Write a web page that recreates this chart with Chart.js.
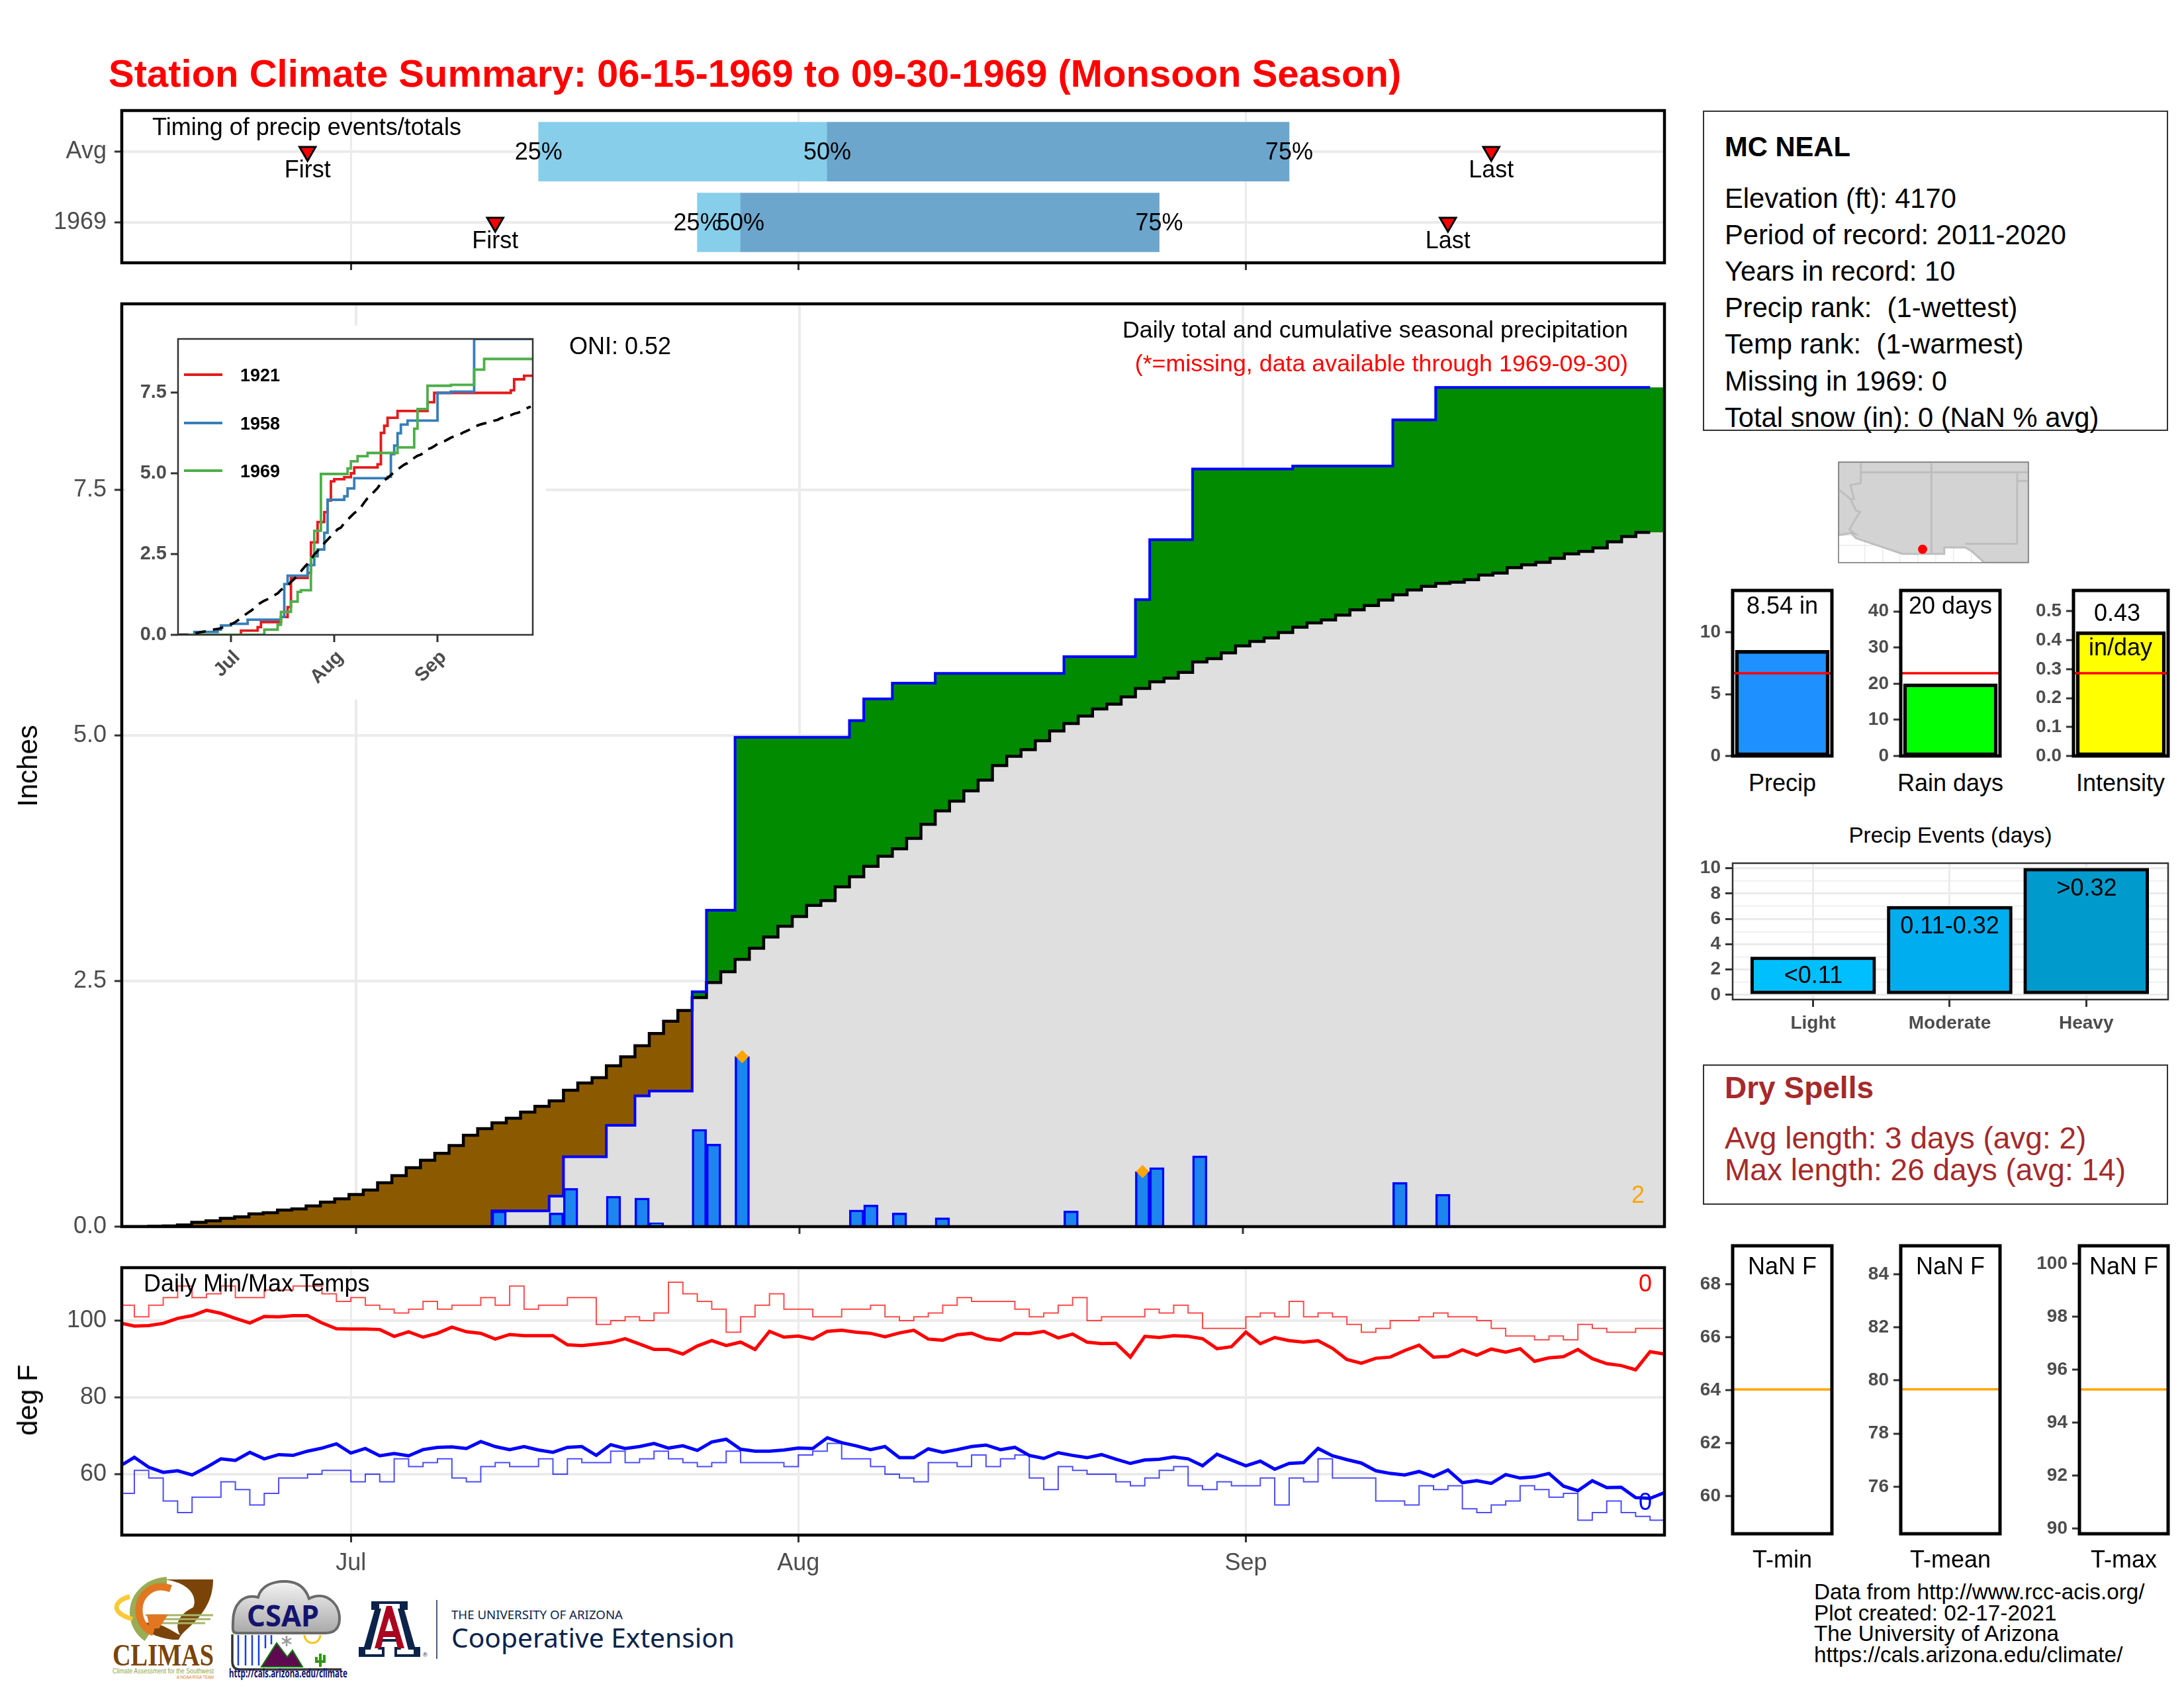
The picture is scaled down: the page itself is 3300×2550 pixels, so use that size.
<!DOCTYPE html>
<html>
<head>
<meta charset="utf-8">
<title>Station Climate Summary</title>
<script src="https://cdn.jsdelivr.net/npm/chart.js@4"></script>
<style>
html, body { margin: 0; padding: 0; background: #fff; }
#page { position: relative; width: 3300px; height: 2550px; overflow: hidden; font-family: "Liberation Sans", sans-serif; }
#page canvas, #page svg, #page .lab, #page .box { position: absolute; }
.lab { white-space: pre; line-height: 0; }
.box { box-sizing: border-box; }
</style>
</head>
<body>
<div id="page">
<svg width="3300" height="2550" style="left:0;top:0">
  <defs><linearGradient id="cloud" x1="0" y1="0" x2="0" y2="1"><stop offset="0" stop-color="#f4f4f4"/><stop offset="1" stop-color="#a9a9a9"/></linearGradient></defs>
  <!-- CLIMAS -->
  <path d="M245 2386H322C322 2412 312 2430 298 2446C288 2458 274 2466 270 2477C252 2478 222 2470 204 2450L232 2452C248 2454 262 2466 272 2470C264 2455 268 2440 292 2428C300 2408 280 2388 245 2386Z" fill="#7a4408"/>
  <path d="M252 2388C222 2390 202 2412 202 2436C202 2452 210 2466 222 2474" fill="none" stroke="#98ad55" stroke-width="12"/>
  <path d="M258 2400C232 2390 210 2408 210 2432C210 2450 220 2462 232 2466" fill="none" stroke="#e27722" stroke-width="11"/>
  <path d="M196 2412C172 2418 166 2436 200 2446" fill="none" stroke="#f9c937" stroke-width="7"/>
  <path d="M220 2440H322M228 2446H318M232 2452H310" fill="none" stroke="#a4b568" stroke-width="3"/>
  <path d="M222 2439H254L240 2460H226Z" fill="#e27722"/>
  <text x="170" y="2516" font-family="Liberation Serif" font-weight="bold" font-size="46" fill="#7a4408" textLength="153" lengthAdjust="spacingAndGlyphs">CLIMAS</text>
  <text x="170" y="2528" font-size="11" fill="#8fa84b" textLength="153" lengthAdjust="spacingAndGlyphs">Climate Assessment for the Southwest</text>
  <text x="267" y="2536" font-size="8" fill="#e27722" textLength="56" lengthAdjust="spacingAndGlyphs">A NOAA RISA TEAM</text>
  <!-- CSAP -->
  <path d="M358 2467C350 2467 352 2460 352 2450C352 2425 366 2407 390 2413C394 2396 412 2388 433 2389C452 2390 462 2400 467 2415C490 2403 513 2420 513 2445C513 2460 505 2467 492 2467Z" fill="url(#cloud)" stroke="#6a6a6a" stroke-width="4"/>
  <text x="373" y="2457" font-family="Noto Sans" font-weight="bold" font-size="44" fill="#14146e" textLength="109" lengthAdjust="spacingAndGlyphs">CSAP</text>
  <path d="M360 2470V2516M371 2470V2516M381 2470V2516M391 2470V2516M401 2470V2490M410 2470V2484" stroke="#1a3fe0" stroke-width="2.5"/>
  <path d="M351 2469V2510Q351 2522 362 2522H516" fill="none" stroke="#333" stroke-width="3.5"/>
  <path d="M395 2518L418 2482L434 2503L442 2493L457 2518Z" fill="#5e0a50" stroke="#0a7a0a" stroke-width="2"/>
  <path d="M460 2470A12 12 0 0 0 484 2470" fill="none" stroke="#f5c518" stroke-width="3"/>
  <path d="M433 2471V2487M426 2475L440 2483M440 2475L426 2483" stroke="#999" stroke-width="2.5"/>
  <path d="M484 2518V2498M478 2503V2510H490V2500" fill="none" stroke="#2e9a0a" stroke-width="4"/>
  <text x="346" y="2534" font-family="Noto Sans" font-weight="bold" font-size="18" fill="#14146e" textLength="179" lengthAdjust="spacingAndGlyphs">http://cals.arizona.edu/climate</text>
  <!-- University of Arizona -->
  <path d="M561 2419H616V2432H611L627 2488H635V2503H596V2488H601L599 2480H578L576 2488H581V2503H542V2488H550L566 2432H561Z" fill="#0c234b"/>
  <path d="M573 2423H604V2430H601L617 2492H625V2499H600V2492H606L603 2476H574L571 2492H577V2499H552V2492H560L576 2430H573Z" fill="#fff"/>
  <path d="M584 2426H592L611 2490H601L597 2473H579L575 2490H566ZM588 2444L582 2464H594Z" fill="#ab0520" fill-rule="evenodd"/>
  <text x="639" y="2503" font-size="9" fill="#0c234b">®</text>
  <path d="M660 2417V2506" stroke="#0c234b" stroke-width="1.5"/>
  <text x="682" y="2446" font-family="Noto Sans" font-size="18" fill="#0c234b" textLength="259" lengthAdjust="spacingAndGlyphs">THE UNIVERSITY OF ARIZONA</text>
  <text x="682" y="2489" font-family="Noto Sans" font-size="40" fill="#0c234b" textLength="428" lengthAdjust="spacingAndGlyphs">Cooperative Extension</text>
</svg>
</div>
<script>
// ---- data: day number counts from Jun 15 (Jul 1 = 16, Aug 1 = 47, Sep 1 = 78)
const monthDays = [16, 47, 78];
const monthNames = ["Jul", "Aug", "Sep"];

// timing panel: [Avg, 1969]
const timingRows = [2, 1];
const timingNames = ["1969", "Avg"];
const timingFirst = [13, 26];
const timing25 = [29, 40];
const timing50 = [49, 43];
const timing75 = [81, 72];
const timingLast = [95, 92];

// 1969 daily rain
const rainDays = [26, 30, 31, 34, 36, 37, 40, 41, 43, 51, 52, 54, 57, 66, 71, 72, 75, 82, 89, 92];
const rainAmounts = [0.16, 0.14, 0.39, 0.31, 0.29, 0.04, 0.99, 0.84, 1.73, 0.17, 0.22, 0.14, 0.09, 0.16, 0.56, 0.60, 0.72, 0.01, 0.45, 0.33];
const rainTotals = [0.16, 0.31, 0.71, 1.03, 1.33, 1.38, 2.39, 3.22, 4.98, 5.15, 5.37, 5.53, 5.63, 5.80, 6.38, 6.99, 7.71, 7.74, 8.21, 8.54];
const flagDays = [43, 71];
const flagAmounts = [1.73, 0.56];

// long term average cumulative precip, days 0-106
const avgCum = [0, 0, 0.003, 0.007, 0.016, 0.043, 0.059, 0.084, 0.10, 0.13, 0.141, 0.168, 0.18, 0.21, 0.25, 0.283,
  0.327, 0.373, 0.447, 0.519, 0.60, 0.676, 0.746, 0.825, 0.93, 0.997, 1.056, 1.103, 1.166, 1.224, 1.28, 1.388,
  1.462, 1.516, 1.637, 1.727, 1.84, 1.965, 2.09, 2.20, 2.33, 2.484, 2.594, 2.72, 2.833, 2.947, 3.056, 3.155,
  3.268, 3.318, 3.458, 3.56, 3.666, 3.768, 3.844, 3.95, 4.094, 4.23, 4.33, 4.434, 4.544, 4.692, 4.786, 4.854,
  4.944, 5.044, 5.12, 5.195, 5.267, 5.316, 5.39, 5.477, 5.544, 5.58, 5.64, 5.746, 5.78, 5.838, 5.91, 5.954,
  5.99, 6.045, 6.10, 6.143, 6.173, 6.222, 6.277, 6.32, 6.375, 6.43, 6.478, 6.515, 6.546, 6.558, 6.583, 6.63,
  6.65, 6.705, 6.735, 6.76, 6.80, 6.845, 6.87, 6.906, 6.968, 7.022, 7.065];

// inset comparison years (day the total changes, new total)
const days1921 = [19, 24, 25, 31, 33, 34, 38, 39, 40, 42, 44, 45, 46, 47, 50, 52, 53, 60, 61, 62, 63, 66, 75, 77, 100, 101, 104];
const totals1921 = [0.13, 0.24, 0.39, 0.55, 0.86, 1.76, 1.76, 1.92, 2.86, 3.49, 3.80, 4.16, 4.75, 4.82, 4.88, 5.0, 5.18, 5.28, 6.25, 6.47, 6.72, 6.93, 7.2, 7.49, 7.57, 7.91, 8.02];
const days1958 = [5, 12, 13, 16, 21, 31, 32, 33, 39, 41, 42, 44, 45, 50, 51, 53, 63, 64, 65, 66, 67, 69, 78, 82, 89];
const totals1958 = [0.09, 0.16, 0.29, 0.34, 0.47, 0.55, 1.57, 1.83, 2.16, 2.43, 2.64, 3.16, 4.18, 4.29, 4.53, 4.85, 4.89, 5.59, 5.86, 6.24, 6.51, 6.63, 7.49, 7.53, 9.16];

// temperatures, days 0-107 (avg) and 0-106 (1969)
const avgMax = [99.4, 98.6, 98.7, 99.3, 100.6, 101.3, 102.7, 101.9, 100.6, 99.4, 101.1, 101.0, 101.3, 101.3, 99.4, 97.9,
  97.8, 97.8, 97.7, 95.9, 97.1, 95.7, 96.7, 98.3, 97.1, 96.7, 95.2, 96.4, 96.1, 96.1, 96.1, 93.7,
  93.5, 93.9, 94.3, 95.3, 93.9, 92.5, 92.5, 91.3, 93.4, 94.8, 93.5, 94.4, 92.5, 97.2, 95.7, 96.0,
  95.2, 97.2, 97.5, 97.0, 96.7, 95.8, 96.8, 97.5, 95.2, 94.9, 96.3, 96.7, 95.3, 94.9, 96.7, 96.6,
  97.2, 95.5, 96.5, 94.4, 94.0, 94.1, 90.5, 95.9, 95.6, 96.1, 95.9, 95.3, 92.7, 93.2, 97.0, 94.0,
  95.6, 94.8, 94.4, 94.8, 92.8, 89.9, 88.9, 90.2, 90.5, 92.2, 93.6, 90.5, 90.7, 92.4, 91.0, 92.6,
  91.8, 92.7, 89.4, 90.3, 90.6, 92.5, 90.1, 88.8, 88.3, 87.2, 91.9, 91.3];
const avgMin = [62.1, 64.4, 61.8, 60.5, 60.9, 59.8, 61.8, 64.0, 63.6, 65.7, 64.0, 65.1, 64.9, 66.0, 66.8, 67.9,
  65.5, 66.7, 64.8, 65.4, 64.8, 66.4, 67.0, 67.1, 66.7, 68.5, 67.2, 66.4, 67.2, 66.3, 65.7, 67.0,
  67.2, 64.9, 67.7, 66.7, 67.2, 68.0, 66.8, 67.4, 66.2, 68.4, 69.1, 66.5, 66.0, 66.0, 66.3, 66.8,
  66.7, 69.5, 68.2, 67.4, 66.4, 67.2, 64.3, 64.3, 66.6, 65.7, 66.4, 67.2, 67.6, 66.4, 67.0, 64.9,
  64.1, 65.6, 64.9, 64.3, 65.1, 63.9, 62.8, 63.7, 63.9, 64.5, 64.0, 62.2, 65.2, 63.7, 62.2, 63.4,
  61.3, 62.8, 63.0, 66.7, 64.8, 63.8, 62.9, 60.9, 60.2, 59.8, 60.7, 59.4, 61.1, 57.8, 58.3, 57.6,
  59.9, 59.0, 59.3, 60.2, 56.9, 55.7, 58.3, 56.5, 56.6, 53.9, 53.7, 55.2];
const max1969 = [104, 101, 104, 106, 109, 106, 107, 109, 106, 106, 108, 108, 109, 109, 107, 105, 106, 104, 103, 102,
  103, 105, 103, 104, 104, 106, 104, 109, 103, 104, 104, 106, 106, 99, 100, 101, 100, 102, 110, 107,
  105, 103, 97, 101, 104, 107, 103, 103, 101, 101, 103, 103, 104, 101, 100, 101, 102, 104, 106, 105,
  105, 105, 103, 101, 102, 104, 106, 100, 101, 101, 101, 103, 102, 104, 102, 98, 98, 98, 101, 102,
  101, 105, 101, 102, 101, 99, 97, 98, 100, 100, 101, 102, 101, 101, 100, 98, 96, 96, 95, 96,
  95, 99, 98, 97, 97, 98, 98];
const min1969 = [55, 61, 59, 53, 50, 54, 54, 58, 56, 52, 55, 59, 59, 60, 61, 61, 58, 60, 58, 64,
  62, 63, 64, 59, 58, 62, 63, 62, 62, 64, 60, 64, 63, 63, 66, 63, 64, 66, 64, 63,
  62, 63, 66, 63, 63, 63, 62, 65, 66, 68, 64, 64, 62, 60, 59, 58, 63, 63, 62, 65,
  62, 64, 65, 59, 56, 62, 61, 60, 60, 58, 57, 59, 61, 62, 57, 56, 58, 57, 57, 59,
  52, 59, 58, 64, 59, 59, 59, 53, 53, 52, 57, 56, 57, 51, 50, 52, 53, 57, 56, 54,
  55, 48, 50, 53, 50, 49, 48];

// gauges
const gaugePrecip = 8.54, gaugePrecipAvg = 6.68;
const gaugeRain = 20, gaugeRainAvg = 22.9;
const gaugeIntensity = 0.43, gaugeIntensityAvg = 0.286;
const eventNames = ["Light", "Moderate", "Heavy"];
const eventValues = [3, 7, 10];
const eventColors = ["#00BFFF", "#00AEEF", "#009ACD"];
const eventLabels = ["<0.11", "0.11-0.32", ">0.32"];
const tminAvg = 64.03, tmeanAvg = 79.67, tmaxAvg = 95.25;

// little locator map (lon, lat)
const stationLon = [-109.67], stationLat = [31.66];
const landLon = [-115.6, -114.71, -114.37, -111.09, -108.14, -108.14, -106.67, -106.22, -105.31, -102.2, -102.2, -115.6, -115.6];
const landLat = [32.67, 32.82, 32.45, 31.33, 31.33, 31.79, 31.79, 31.54, 30.7, 30.7, 37.9, 37.9, 32.67];
const borderLons = [
  [-115.6, -114.76, -114.37, -114.08, -114.6, -114.83, -114.42, -114.71],
  [-114.03, -114.03, -114.76, -114.5, -114.76],
  [-114.03, -102.2],
  [-109.05, -109.05],
  [-103, -103],
  [-106.67, -103],
  [-103, -102.2]
];
const borderLats = [
  [35.95, 35.25, 34.43, 34.34, 33.5, 33.06, 32.76, 32.82],
  [37.9, 36.4, 36.25, 35.25, 35.25],
  [37.17, 37.17],
  [37.9, 31.33],
  [37.17, 32.05],
  [32.05, 32.05],
  [36.55, 36.55]
];

// ---- helpers
const page = document.getElementById('page');
const FONT = '"Liberation Sans", sans-serif';
Chart.defaults.font.family = FONT;

function label(x, base, text, o) {
  o = o || {};
  const size = o.size || 36;
  const d = document.createElement('div');
  d.className = 'lab';
  d.textContent = text;
  d.style.left = x + 'px';
  d.style.top = (base - 0.3465 * size) + 'px';
  d.style.fontSize = size + 'px';
  d.style.color = o.color || '#000';
  if (o.bold) d.style.fontWeight = 'bold';
  if (o.anchor === 'middle') d.style.transform = 'translateX(-50%)';
  if (o.anchor === 'end') d.style.transform = 'translateX(-100%)';
  page.appendChild(d);
}

function sideLabel(x, y, text) {
  const d = document.createElement('div');
  d.className = 'lab';
  d.textContent = text;
  d.style.left = x + 'px';
  d.style.top = y + 'px';
  d.style.fontSize = '42px';
  d.style.lineHeight = '48px';
  d.style.transform = 'translate(-50%,-50%) rotate(-90deg)';
  page.appendChild(d);
}

function rect(x, y, w, h, css) {
  const d = document.createElement('div');
  d.className = 'box';
  d.style.cssText = `left:${x}px;top:${y}px;width:${w}px;height:${h}px;` + css;
  page.appendChild(d);
}

const framePlugin = {
  id: 'frame',
  afterDatasetsDraw(chart, args, opts) {
    const a = chart.chartArea, c = chart.ctx;
    c.save();
    c.strokeStyle = opts.color || '#000';
    c.lineWidth = opts.width || 4;
    c.strokeRect(a.left, a.top, a.right - a.left, a.bottom - a.top);
    c.restore();
  }
};
Chart.register(framePlugin);

function addChart(box, m, datasets, xAxis, yAxis, frame) {
  const cv = document.createElement('canvas');
  cv.width = box.w + m.l + m.r;
  cv.height = box.h + m.t + m.b;
  cv.style.left = (box.x - m.l) + 'px';
  cv.style.top = (box.y - m.t) + 'px';
  page.appendChild(cv);
  const chart = new Chart(cv, {
    type: 'line',
    data: { datasets },
    options: {
      responsive: false, animation: false, devicePixelRatio: 1, events: [],
      layout: { autoPadding: false, padding: { top: m.t, right: m.r } },
      plugins: { legend: { display: false }, tooltip: { enabled: false }, frame },
      scales: {
        // hold the plot rectangle exactly where the boxes say it is
        x: Object.assign(xAxis, { afterFit(s) { s.height = m.b; s.paddingLeft = 0; s.paddingRight = 0; } }),
        y: Object.assign(yAxis, { afterFit(s) { s.width = m.l; s.paddingTop = 0; s.paddingBottom = 0; } })
      }
    }
  });
  chart.pageX = v => box.x - m.l + chart.scales.x.getPixelForValue(v);
  return chart;
}

function axis(min, max, vals, labels, o) {
  o = o || {};
  return {
    type: 'linear', min, max, offset: false,
    border: { display: false },
    grid: {
      offset: false, color: o.gridColor || '#EBEBEB', lineWidth: o.gridWidth === undefined ? 4 : o.gridWidth,
      drawOnChartArea: o.gridWidth !== 0,
      tickColor: '#333', tickWidth: 3, tickLength: 11
    },
    ticks: {
      display: !!labels, autoSkip: false, maxRotation: o.rotate || 0, minRotation: o.rotate || 0,
      padding: o.padding === undefined ? 12 : o.padding,
      labelOffset: o.labelOffset || 0,
      color: '#4D4D4D',
      font: { size: o.size || 36, weight: o.bold ? 'bold' : 'normal' },
      callback: v => labels ? labels[vals.indexOf(v)] : ''
    },
    afterBuildTicks(s) { s.ticks = vals.map(value => ({ value })); }
  };
}

// value i holds from x = i + shift up to x = i + 1 + shift
function stepPoints(values, shift, endX) {
  const pts = values.map((y, i) => ({ x: i + shift, y }));
  pts.push({ x: endX, y: values[values.length - 1] });
  return pts;
}

function changePoints(days, totals, endX) {
  const pts = [{ x: 0, y: 0 }];
  days.forEach((d, i) => pts.push({ x: d, y: totals[i] }));
  pts.push({ x: endX, y: totals[totals.length - 1] });
  return pts;
}

function line(data, color, width, extra) {
  return Object.assign({ type: 'line', data, borderColor: color, borderWidth: width, pointRadius: 0, fill: false, tension: 0, borderJoinStyle: 'miter' }, extra || {});
}

// ---- 1969 running total, one value per day 0-106
const obsCum = avgCum.map((_, day) => {
  let total = 0;
  rainDays.forEach((d, i) => { if (d <= day) total = rainTotals[i]; });
  return total;
});
const lowCum = avgCum.map((a, i) => Math.min(a, obsCum[i]));

// ---- title
label(164, 131, 'Station Climate Summary: 06-15-1969 to 09-30-1969 (Monsoon Season)', { size: 58, color: '#FF0000', bold: true });

// ---- timing panel
const timingBox = { x: 184, y: 167, w: 2331, h: 230 };
const timingChart = addChart(timingBox, { l: 184, t: 20, r: 30, b: 30 }, [
  { type: 'line', data: timingRows.flatMap((y, i) => [{ x: timingFirst[i], y }, { x: timingLast[i], y }]),
    showLine: false, pointStyle: 'triangle', pointRotation: 180, pointRadius: 14,
    pointBackgroundColor: '#FF0000', pointBorderColor: '#000', pointBorderWidth: 3 },
  { type: 'bar', indexAxis: 'y', grouped: false, barThickness: 89, backgroundColor: '#6CA6CD',
    data: timingRows.map((y, i) => ({ x: [timing50[i], timing75[i]], y })) },
  { type: 'bar', indexAxis: 'y', grouped: false, barThickness: 89, backgroundColor: '#87CEEB',
    data: timingRows.map((y, i) => ({ x: [timing25[i], timing50[i]], y })) }
], axis(0.13, 107, monthDays, null, { gridWidth: 3 }),
   axis(0.43, 2.58, [1, 2], timingNames), { width: 4.5 });

[241, 348].forEach((base, i) => {
  label(timingChart.pageX(timing25[i]), base, '25%', { anchor: 'middle' });
  label(timingChart.pageX(timing50[i]), base, '50%', { anchor: 'middle' });
  label(timingChart.pageX(timing75[i]), base, '75%', { anchor: 'middle' });
  label(timingChart.pageX(timingFirst[i]), base + 27, 'First', { anchor: 'middle' });
  label(timingChart.pageX(timingLast[i]), base + 27, 'Last', { anchor: 'middle' });
});
label(230, 204, 'Timing of precip events/totals');

// ---- main precip panel
const mainBox = { x: 184, y: 459, w: 2331, h: 1394 };
addChart(mainBox, { l: 184, t: 20, r: 30, b: 30 }, [
  line(flagDays.map((x, i) => ({ x, y: flagAmounts[i] })), '#FFA500', 0,
    { showLine: false, pointStyle: 'rectRot', pointRadius: 10, pointBackgroundColor: '#FFA500', pointBorderWidth: 0 }),
  line(stepPoints(obsCum, -0.5, 106.5), '#0000FF', 4, { stepped: true }),
  { type: 'bar', grouped: false, barThickness: 22, borderWidth: 3.5, borderColor: '#0000FF', backgroundColor: '#1C86EE',
    data: rainDays.map((x, i) => ({ x, y: rainAmounts[i] })) },
  line(stepPoints(avgCum, -0.5, 106.5), '#000', 4.5, { stepped: true }),
  line(stepPoints(obsCum, -0.5, 107.5), 'rgba(0,0,0,0)', 0, { stepped: true, fill: { target: '+1', above: '#008B00', below: '#8B5A00' } }),
  line(stepPoints(avgCum, -0.5, 107.5), 'rgba(0,0,0,0)', 0, { stepped: true }),
  line(stepPoints(lowCum, -0.5, 107.5), 'rgba(0,0,0,0)', 0, { stepped: true, fill: { target: 'origin', above: '#DFDFDF' } })
], axis(-0.39, 107.5, monthDays, null, { gridWidth: 4 }),
   axis(0, 9.39, [0, 2.5, 5, 7.5], ['0.0', '2.5', '5.0', '7.5']), { width: 4.5 });

sideLabel(42, 1157, 'Inches');
label(860, 535, 'ONI: 0.52');
label(2460, 510, 'Daily total and cumulative seasonal precipitation', { anchor: 'end', size: 35.8 });
label(2460, 561, '(*=missing, data available through 1969-09-30)', { anchor: 'end', color: '#FF0000', size: 35.8 });
label(2475, 1817, '2', { anchor: 'middle', color: '#FFA500' });

// ---- inset
rect(190, 492, 635, 565, 'background:#fff;');
addChart({ x: 269, y: 512, w: 536, h: 447 }, { l: 70, t: 10, r: 12, b: 95 }, [
  line(avgCum.map((y, x) => ({ x, y })), '#000', 3.8, { borderDash: [16, 11] }),
  line(stepPoints(obsCum, 0, 107), '#4DAF4A', 3.8, { stepped: true }),
  line(changePoints(days1958, totals1958, 107), '#377EB8', 3.8, { stepped: true }),
  line(changePoints(days1921, totals1921, 107), '#E41A1C', 3.8, { stepped: true })
], axis(0.1, 106.6, monthDays, monthNames, { gridWidth: 0, rotate: 45, size: 29, bold: true, padding: 6, labelOffset: 9 }),
   axis(0, 9.16, [0, 2.5, 5, 7.5], ['0.0', '2.5', '5.0', '7.5'], { gridWidth: 0, size: 29, bold: true, padding: 6 }),
   { color: '#333', width: 2.5 });

[[566, '1921', '#E41A1C'], [639, '1958', '#377EB8'], [711, '1969', '#4DAF4A']].forEach(r => {
  rect(278, r[0] - 2, 58, 4, 'background:' + r[2] + ';');
  label(363, r[0] + 10, r[1], { size: 27, bold: true });
});

// ---- temperature panel
const tempBox = { x: 184, y: 1915, w: 2331, h: 404 };
const tempChart = addChart(tempBox, { l: 184, t: 20, r: 30, b: 80 }, [
  line(avgMax.map((y, x) => ({ x, y })), '#FF0000', 5),
  line(avgMin.map((y, x) => ({ x, y })), '#0000FF', 5),
  line(stepPoints(max1969, 0, 107), 'rgba(255,0,0,0.7)', 2, { stepped: true }),
  line(stepPoints(min1969, 0, 107), 'rgba(0,0,255,0.7)', 2, { stepped: true })
], axis(0.13, 107, monthDays, monthNames, { gridWidth: 3, padding: 10 }),
   axis(44.14, 113.8, [60, 80, 100], ['60', '80', '100']), { width: 4.5 });

sideLabel(42, 2115, 'deg F');
label(217, 1951, 'Daily Min/Max Temps');
label(2486, 1951, '0', { anchor: 'middle', color: '#FF0000' });
label(2486, 2281, '0', { anchor: 'middle', color: '#0000FF' });

// ---- info box
rect(2573, 167, 703, 484, 'border:2px solid #333;');
label(2606, 236, 'MC NEAL', { size: 41.7, bold: true });
['Elevation (ft): 4170', 'Period of record: 2011-2020', 'Years in record: 10', 'Precip rank:  (1-wettest)',
 'Temp rank:  (1-warmest)', 'Missing in 1969: 0', 'Total snow (in): 0 (NaN % avg)'].forEach((t, i) => {
  label(2606, 314 + i * 55.2, t, { size: 41.7 });
});

// ---- locator map
addChart({ x: 2778, y: 698, w: 287, h: 152 }, { l: 4, t: 4, r: 4, b: 4 }, [
  line(stationLon.map((x, i) => ({ x, y: stationLat[i] })), '#FF0000', 0,
    { showLine: false, pointRadius: 7, pointBackgroundColor: '#FF0000', pointBorderWidth: 0 }),
  ...borderLons.map((lons, k) => line(lons.map((x, i) => ({ x, y: borderLats[k][i] })), '#BEBEBE', 3)),
  line(landLon.map((x, i) => ({ x, y: landLat[i] })), '#BEBEBE', 3, { backgroundColor: '#D3D3D3', fill: 'shape' })
], {
  type: 'linear', min: -115.6, max: -102.2, border: { display: false },
  grid: { color: '#EBEBEB', lineWidth: 1.5, drawTicks: false }, ticks: { display: false, stepSize: 1.25 }
}, {
  type: 'linear', min: 30.7, max: 37.9, border: { display: false },
  grid: { color: '#EBEBEB', lineWidth: 1.5, drawTicks: false }, ticks: { display: false, stepSize: 0.68 }
}, { color: '#777', width: 1.5 });

// ---- gauges
function gauge(box, yMin, yMax, vals, labels, o) {
  const sets = [];
  sets.push(line([{ x: 0, y: o.level }, { x: 1, y: o.level }], o.levelColor, o.levelWidth));
  if (o.value !== undefined) {
    sets.push({ type: 'bar', grouped: false, barThickness: box.w - 8, borderWidth: 5.5, borderColor: '#000', borderSkipped: false,
      backgroundColor: o.fill, data: [{ x: 0.5, y: o.value }] });
  }
  addChart(box, { l: 70, t: 8, r: 8, b: 20 }, sets,
    axis(0, 1, [], null, { gridWidth: 0 }),
    axis(yMin, yMax, vals, labels, { gridWidth: 0, size: 28, bold: true, padding: 7 }), { width: 5 });
}

gauge({ x: 2618, y: 892, w: 150, h: 250 }, 0, 13.37, [0, 5, 10], ['0', '5', '10'],
  { value: gaugePrecip, fill: '#1E90FF', level: gaugePrecipAvg, levelColor: '#FF0000', levelWidth: 3.5 });
gauge({ x: 2872, y: 892, w: 150, h: 250 }, 0, 45.8, [0, 10, 20, 30, 40], ['0', '10', '20', '30', '40'],
  { value: gaugeRain, fill: '#00FF00', level: gaugeRainAvg, levelColor: '#FF0000', levelWidth: 3.5 });
gauge({ x: 3133, y: 892, w: 143, h: 250 }, 0, 0.572, [0, 0.1, 0.2, 0.3, 0.4, 0.5], ['0.0', '0.1', '0.2', '0.3', '0.4', '0.5'],
  { value: gaugeIntensity, fill: '#FFFF00', level: gaugeIntensityAvg, levelColor: '#FF0000', levelWidth: 3.5 });

label(2693, 927, '8.54 in', { anchor: 'middle' });
label(2947, 927, '20 days', { anchor: 'middle' });
label(3199, 938, '0.43', { anchor: 'middle' });
label(3204, 990, 'in/day', { anchor: 'middle' });
label(2693, 1195, 'Precip', { anchor: 'middle' });
label(2947, 1195, 'Rain days', { anchor: 'middle' });
label(3204, 1195, 'Intensity', { anchor: 'middle' });

// ---- precip events
label(2947, 1274, 'Precip Events (days)', { anchor: 'middle', size: 33.3 });
const evenTicks = [0, 1, 2, 3, 4, 5, 6, 7, 8, 9, 10];
const eventsY = axis(-0.37, 10.4, evenTicks, ['0', '', '2', '', '4', '', '6', '', '8', '', '10'], { size: 28, bold: true, padding: 7 });
eventsY.grid.lineWidth = c => (c.tick && c.tick.value % 2 ? 1.5 : 3);
eventsY.grid.tickColor = c => (c.tick && c.tick.value % 2 ? 'rgba(0,0,0,0)' : '#333');
addChart({ x: 2618, y: 1304, w: 658, h: 206 }, { l: 70, t: 10, r: 8, b: 60 }, [
  { type: 'bar', grouped: false, barThickness: 189, borderWidth: 5, borderColor: '#000', borderSkipped: false,
    backgroundColor: eventColors, data: eventValues.map((y, i) => ({ x: i + 1, y })) }
], axis(0.41, 3.6, [1, 2, 3], eventNames, { size: 28, bold: true, gridWidth: 3, padding: 8 }), eventsY, { color: '#333', width: 2.5 });
label(2740, 1485, eventLabels[0], { anchor: 'middle' });
label(2946, 1410, eventLabels[1], { anchor: 'middle' });
label(3153, 1353, eventLabels[2], { anchor: 'middle' });

// ---- dry spells
rect(2573, 1608, 703, 212, 'border:2px solid #333;');
label(2606, 1659, 'Dry Spells', { size: 46, bold: true, color: '#A52A2A' });
label(2606, 1735, 'Avg length: 3 days (avg: 2)', { size: 46, color: '#A52A2A' });
label(2606, 1783, 'Max length: 26 days (avg: 14)', { size: 46, color: '#A52A2A' });

// ---- temperature gauges
const orange = { levelColor: '#FFA500', levelWidth: 3.5 };
gauge({ x: 2618, y: 1882, w: 150, h: 435 }, 58.58, 69.45, [60, 62, 64, 66, 68], ['60', '62', '64', '66', '68'], Object.assign({ level: tminAvg }, orange));
gauge({ x: 2872, y: 1882, w: 150, h: 435 }, 74.23, 85.07, [76, 78, 80, 82, 84], ['76', '78', '80', '82', '84'], Object.assign({ level: tmeanAvg }, orange));
gauge({ x: 3142, y: 1882, w: 134, h: 435 }, 89.8, 100.68, [90, 92, 94, 96, 98, 100], ['90', '92', '94', '96', '98', '100'], Object.assign({ level: tmaxAvg }, orange));
label(2693, 1925, 'NaN F', { anchor: 'middle' });
label(2947, 1925, 'NaN F', { anchor: 'middle' });
label(3209, 1925, 'NaN F', { anchor: 'middle' });
label(2693, 2368, 'T-min', { anchor: 'middle' });
label(2947, 2368, 'T-mean', { anchor: 'middle' });
label(3209, 2368, 'T-max', { anchor: 'middle' });

// ---- footer
['Data from http://www.rcc-acis.org/', 'Plot created: 02-17-2021', 'The University of Arizona', 'https://cals.arizona.edu/climate/'].forEach((t, i) => {
  label(2741, 2417 + i * 31.4, t, { size: 33.3 });
});
</script>
</body>
</html>
